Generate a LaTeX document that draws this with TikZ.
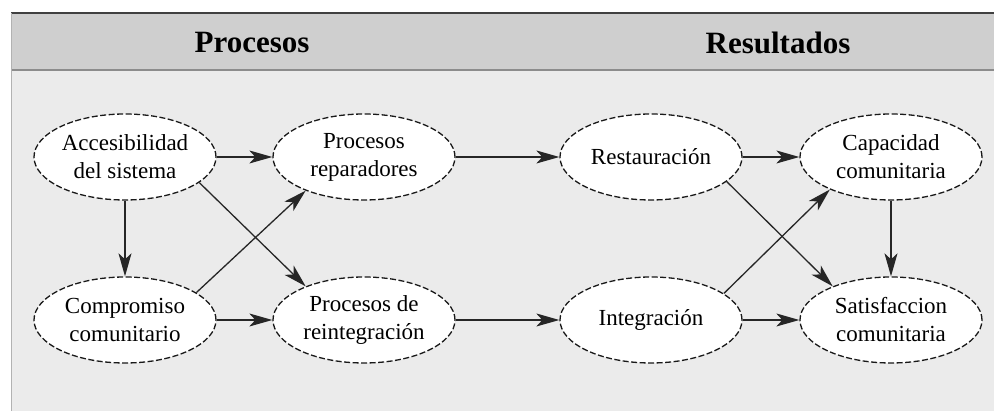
\documentclass[tikz,border=0pt]{standalone}
\usepackage{fontspec}
\setmainfont{Liberation Serif}
\usetikzlibrary{shapes.geometric,arrows.meta}

\definecolor{headgray}{HTML}{CFCFCF}
\definecolor{bodygray}{HTML}{EBEBEB}

\begin{document}
\begin{tikzpicture}[x=1pt,y=1pt,
    oval/.style={ellipse, draw=black!90, fill=white, dashed,
      dash pattern=on 6pt off 2.5pt, line width=1.3pt,
      minimum width=182pt, minimum height=86pt, inner sep=0pt,
      align=center, font=\fontsize{23}{28}\selectfont},
    link/.style={line width=1.3pt, draw=black!85,
      -{Stealth[length=23pt,width=13pt,inset=6pt]}},
    title/.style={font=\fontsize{31}{34}\selectfont\bfseries}]
  \useasboundingbox (0,0) rectangle (994,411);

  % frame
  \fill[bodygray] (11,0) rectangle (994,341);
  \fill[headgray] (11,341) rectangle (994,398);
  \draw[black!75, line width=2pt] (11,398) -- (994,398);
  \draw[black!45, line width=2pt] (11,341) -- (994,341);
  \draw[black!30, line width=1pt] (11,0) -- (11,398);

  \node[title] (hproc) at (252,368) {Procesos};
  \node[title] (hres) at (778,368) {Resultados};

  % procesos
  \node[oval] (acc) at (125,254) {Accesibilidad\\del sistema};
  \node[oval] (rep) at (364,254) {Procesos\\reparadores};
  \node[oval] (comp) at (125,91) {Compromiso\\comunitario};
  \node[oval] (reint) at (364,91) {Procesos de\\reintegración};

  % resultados
  \node[oval] (rest) at (651,254) {Restauración};
  \node[oval] (cap) at (891,254) {Capacidad\\comunitaria};
  \node[oval] (integ) at (651,91) {Integración};
  \node[oval] (sat) at (891,91) {Satisfaccion\\comunitaria};

  \draw[link] (acc) -- (rep);
  \draw[link] (acc) -- (comp);
  \draw[link] (acc.-19) -- (reint.150);
  \draw[link] (comp.21) -- (rep.210);
  \draw[link] (comp) -- (reint);
  \draw[link] (rep) -- (rest);
  \draw[link] (reint) -- (integ);

  \draw[link] (rest) -- (cap);
  \draw[link] (rest.-18) -- (sat.150);
  \draw[link] (integ.20) -- (cap.208);
  \draw[link] (integ) -- (sat);
  \draw[link] (cap) -- (sat);
\end{tikzpicture}
\end{document}
